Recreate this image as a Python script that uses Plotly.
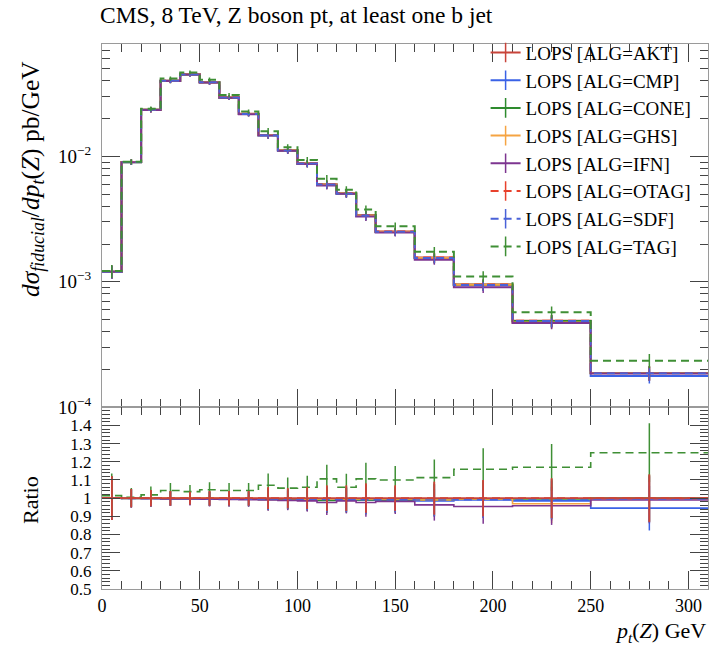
import plotly.graph_objects as go

# ---- data ----
bin_edges = [0, 10, 20, 30, 40, 50, 60, 70, 80, 90, 100, 110, 120, 130, 140, 160, 180, 210, 250, 310]
ref_akt = [0.00120, 0.0090, 0.0235, 0.0400, 0.0450, 0.0390, 0.0295, 0.0218, 0.0148, 0.0112,
           0.0088, 0.0060, 0.0051, 0.0034, 0.00252, 0.00156, 0.00095, 0.00049, 0.000188]
ratio_akt = [1.0] * 19
ratio_cmp = [1.0, 1.0, 1.0, 0.998, 0.998, 0.997, 0.996, 0.995, 0.995, 0.993, 0.99, 0.99, 0.99, 0.99, 0.99, 0.985, 0.99, 0.985, 0.945]
ratio_cone = [1.0, 0.998, 0.998, 0.997, 0.997, 0.996, 0.995, 0.995, 0.993, 0.992, 0.99, 0.988, 0.99, 0.99, 0.99, 0.99, 0.995, 0.995, 1.0]
ratio_ghs = [1.0, 1.0, 1.0, 1.0, 1.0, 1.0, 1.0, 0.998, 0.998, 0.997, 0.996, 0.995, 0.996, 0.995, 0.995, 0.99, 0.995, 0.969, 0.995]
ratio_ifn = [1.0, 0.998, 0.997, 0.996, 0.995, 0.994, 0.993, 0.992, 0.99, 0.988, 0.985, 0.976, 0.985, 0.976, 0.982, 0.963, 0.954, 0.958, 0.99]
ratio_otag = [1.0, 1.0, 1.0, 1.0, 1.0, 1.0, 1.0, 1.0, 1.0, 1.0, 1.0, 1.0, 1.0, 1.0, 1.0, 1.0, 1.0, 1.0, 1.0]
ratio_sdf = [1.0, 0.999, 0.999, 0.998, 0.998, 0.997, 0.997, 0.996, 0.995, 0.995, 0.994, 0.993, 0.993, 0.992, 0.992, 0.99, 0.992, 0.995, 0.995]
ratio_tag = [1.014, 1.005, 1.018, 1.042, 1.036, 1.046, 1.042, 1.042, 1.071, 1.055, 1.060, 1.106, 1.060, 1.106, 1.10, 1.113, 1.159, 1.170, 1.25]
rel_err = [0.12, 0.05, 0.045, 0.04, 0.035, 0.04, 0.04, 0.04, 0.06, 0.055, 0.06, 0.07, 0.07, 0.08, 0.07, 0.09, 0.1, 0.11, 0.13]

series_names = ["LOPS [ALG=AKT]", "LOPS [ALG=CMP]", "LOPS [ALG=CONE]", "LOPS [ALG=GHS]",
                "LOPS [ALG=IFN]", "LOPS [ALG=OTAG]", "LOPS [ALG=SDF]", "LOPS [ALG=TAG]"]
series_ratios = [ratio_akt, ratio_cmp, ratio_cone, ratio_ghs, ratio_ifn, ratio_otag, ratio_sdf, ratio_tag]
series_colors = ["#c8443a", "#3a62e6", "#2e8b2e", "#f5a442", "#7d3590", "#e8412c", "#4a62d8", "#3f8f35"]
series_dash = ["solid", "solid", "solid", "solid", "solid", "8px,5px", "8px,5px", "8px,5px"]
ratio_draw_order = [1, 2, 3, 4, 6, 7, 5, 0]

x_tick_vals = [0, 50, 100, 150, 200, 250, 300]
ratio_tick_vals = [0.5, 0.6, 0.7, 0.8, 0.9, 1.0, 1.1, 1.2, 1.3, 1.4]
ratio_tick_text = ["0.5", "0.6", "0.7", "0.8", "0.9", "1", "1.1", "1.2", "1.3", "1.4"]
log_tick_vals = [1e-4, 1e-3, 1e-2]
log_tick_text = ["10<sup>−4</sup>", "10<sup>−3</sup>", "10<sup>−2</sup>"]

FONT = "Liberation Serif"
centers = [(a + b) / 2 for a, b in zip(bin_edges[:-1], bin_edges[1:])]

fig = go.Figure()

# top panel
for name, rat, col, dash in zip(series_names, series_ratios, series_colors, series_dash):
    vals = [r * v for r, v in zip(rat, ref_akt)]
    fig.add_trace(go.Scatter(
        x=bin_edges, y=vals + [vals[-1]], mode="lines", line_shape="hv",
        line=dict(color=col, width=2, dash=dash),
        showlegend=False, xaxis="x", yaxis="y", hoverinfo="skip"))
    fig.add_trace(go.Scatter(
        x=centers, y=vals, mode="markers", marker=dict(size=1, color=col, opacity=0),
        error_y=dict(type="data", array=[v * e for v, e in zip(vals, rel_err)],
                     color=col, thickness=1.5, width=0),
        showlegend=False, xaxis="x", yaxis="y", hoverinfo="skip"))

# ratio panel
for i in ratio_draw_order:
    rat, col, dash = series_ratios[i], series_colors[i], series_dash[i]
    fig.add_trace(go.Scatter(
        x=bin_edges, y=rat + [rat[-1]], mode="lines", line_shape="hv",
        line=dict(color=col, width=1.6, dash=dash),
        showlegend=False, xaxis="x2", yaxis="y2", hoverinfo="skip"))
    fig.add_trace(go.Scatter(
        x=centers, y=rat, mode="markers", marker=dict(size=1, color=col, opacity=0),
        error_y=dict(type="data", array=[r * e for r, e in zip(rat, rel_err)],
                     color=col, thickness=1.5, width=0),
        showlegend=False, xaxis="x2", yaxis="y2", hoverinfo="skip"))

# legend entries (line with a vertical tick, like the reference key)
for name, col, dash in zip(series_names, series_colors, series_dash):
    fig.add_trace(go.Scatter(
        x=[None], y=[None], mode="lines+markers", name=name,
        line=dict(color=col, width=2, dash=dash),
        marker=dict(symbol="line-ns-open", size=14, color=col, line=dict(color=col, width=1.5)),
        xaxis="x", yaxis="y"))

split = 0.3334
axcommon = dict(showline=True, linecolor="#9a9a9a", linewidth=1, mirror="allticks",
                ticks="inside", tickcolor="#444", tickwidth=1, ticklen=18,
                showgrid=False, zeroline=False)
minor_x = dict(tickmode="linear", tick0=0, dtick=10, ticks="inside", ticklen=8,
               tickcolor="#444", showgrid=False)

fig.update_layout(
    width=722, height=650,
    margin=dict(l=102, r=14, t=44, b=61),
    paper_bgcolor="white", plot_bgcolor="white",
    font=dict(family=FONT, color="black", size=16),
    title=dict(text="CMS, 8 TeV, Z boson pt, at least one b jet", x=100 / 722, xanchor="left",
               y=1 - 15 / 650, yanchor="middle", font=dict(family=FONT, size=23.5, color="black")),
    showlegend=True,
    legend=dict(x=0.633, y=1.019, xanchor="left", yanchor="top", bgcolor="rgba(0,0,0,0)",
                font=dict(family=FONT, size=19, color="black"), tracegroupgap=0),
    xaxis=dict(axcommon, domain=[0, 1], range=[0, 310], anchor="y", tickmode="array",
               tickvals=x_tick_vals, showticklabels=False, minor=minor_x),
    yaxis=dict(axcommon, domain=[split, 1], type="log", range=[-4.0, -1.105], anchor="x",
               tickmode="array", tickvals=log_tick_vals, ticktext=log_tick_text,
               ticklabelstandoff=6, tickfont=dict(size=19),
               minor=dict(tickmode="array",
                          tickvals=[k * d for d in [1e-4, 1e-3, 1e-2] for k in range(2, 10)],
                          ticks="inside", ticklen=8, tickcolor="#444", showgrid=False)),
    xaxis2=dict(axcommon, domain=[0, 1], range=[0, 310], anchor="y2", tickmode="array",
                tickvals=x_tick_vals, tickfont=dict(size=18), minor=minor_x),
    yaxis2=dict(axcommon, domain=[0, split], range=[0.5, 1.5], anchor="x2",
                tickmode="array", tickvals=ratio_tick_vals, ticktext=ratio_tick_text,
                ticklabelstandoff=6, tickfont=dict(size=17),
                minor=dict(tickmode="linear", tick0=0.5, dtick=0.02, ticks="inside", ticklen=8,
                           tickcolor="#444", showgrid=False)),
)

fig.add_annotation(
    text="<i>dσ</i><sub><i>fiducial</i></sub>/<i>dp</i><sub><i>t</i></sub>(<i>Z</i>) pb/GeV",
    xref="paper", yref="paper", x=-70 / 606, y=1, xanchor="center", yanchor="top", yshift=-15,
    textangle=-90, showarrow=False, font=dict(family=FONT, size=25.5, color="black"))
fig.add_annotation(
    text="Ratio", xref="paper", yref="paper", x=-72 / 606, y=(589 - 500) / 545,
    xanchor="center", yanchor="middle", textangle=-90, showarrow=False,
    font=dict(family=FONT, size=22, color="black"))
fig.add_annotation(
    text="<i>p</i><sub><i>t</i></sub>(<i>Z</i>) GeV", xref="paper", yref="paper", x=1, y=0,
    xanchor="right", yanchor="middle", yshift=-43, showarrow=False,
    font=dict(family=FONT, size=22, color="black"))

fig.write_html("out.html")
